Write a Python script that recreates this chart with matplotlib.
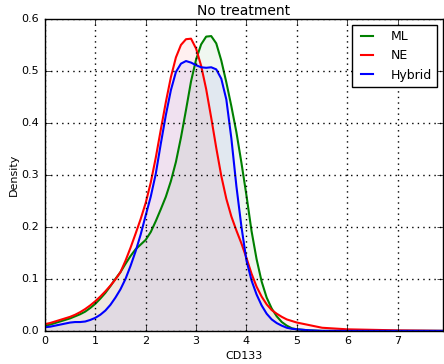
from matplotlib import pyplot as plt

# density values, CD133 on the x axis
cd133 = [0.0, 0.1, 0.2, 0.3, 0.4, 0.5, 0.6, 0.7, 0.8, 0.9,
         1.0, 1.1, 1.2, 1.3, 1.4, 1.5, 1.6, 1.7, 1.8, 1.9,
         2.0, 2.1, 2.2, 2.3, 2.4, 2.5, 2.6, 2.7, 2.8, 2.9,
         3.0, 3.1, 3.2, 3.3, 3.4, 3.5, 3.6, 3.7, 3.8, 3.9,
         4.0, 4.1, 4.2, 4.3, 4.4, 4.5, 4.6, 4.7, 4.8, 4.9,
         5.0, 5.25, 5.5, 6.0, 6.5, 7.0, 7.5, 7.9]

densML = [0.010, 0.012, 0.015, 0.018, 0.021, 0.024, 0.028, 0.032, 0.037, 0.044,
          0.052, 0.062, 0.073, 0.086, 0.100, 0.113, 0.129, 0.144, 0.157, 0.166,
          0.175, 0.190, 0.211, 0.234, 0.258, 0.288, 0.325, 0.372, 0.425, 0.480,
          0.522, 0.551, 0.566, 0.567, 0.553, 0.520, 0.478, 0.432, 0.382, 0.323,
          0.260, 0.192, 0.138, 0.095, 0.064, 0.043, 0.028, 0.017, 0.010, 0.005,
          0.003, 0.001, 0.0, 0.0, 0.0, 0.0, 0.0, 0.0]

densNE = [0.013, 0.015, 0.018, 0.021, 0.024, 0.027, 0.031, 0.036, 0.042, 0.049,
          0.057, 0.066, 0.076, 0.087, 0.099, 0.113, 0.135, 0.160, 0.187, 0.215,
          0.246, 0.285, 0.333, 0.387, 0.440, 0.488, 0.526, 0.550, 0.561, 0.562,
          0.543, 0.510, 0.465, 0.410, 0.352, 0.298, 0.254, 0.220, 0.193, 0.168,
          0.140, 0.110, 0.085, 0.066, 0.051, 0.040, 0.033, 0.027, 0.022, 0.019,
          0.016, 0.011, 0.006, 0.003, 0.002, 0.001, 0.0005, 0.0]

densHybrid = [0.007, 0.008, 0.010, 0.012, 0.014, 0.016, 0.017, 0.017, 0.018, 0.021,
              0.025, 0.031, 0.039, 0.050, 0.064, 0.080, 0.100, 0.125, 0.153, 0.185,
              0.222, 0.258, 0.302, 0.360, 0.415, 0.463, 0.498, 0.514, 0.519, 0.516,
              0.511, 0.507, 0.506, 0.507, 0.503, 0.485, 0.445, 0.370, 0.278, 0.200,
              0.135, 0.097, 0.070, 0.049, 0.033, 0.022, 0.015, 0.010, 0.006, 0.004,
              0.003, 0.001, 0.0, 0.0, 0.0, 0.0, 0.0, 0.0]

names = ["ML", "NE", "Hybrid"]
colors = ["g", "r", "b"]

plt.style.use('classic')
plt.rcParams['font.family'] = 'DejaVu Sans'

fig = plt.figure(figsize=(4.44, 3.64), dpi=100, facecolor='white')
ax = fig.add_axes([0.101, 0.091, 0.897, 0.857])

for dens, name, c in zip([densML, densNE, densHybrid], names, colors):
    ax.plot(cd133, dens, color=c, lw=1.5, label=name)
    ax.fill_between(cd133, dens, color=c, alpha=0.06, lw=0)

ax.set_xlim(0, 7.9)
ax.set_ylim(0, 0.6)
ax.set_xticks([0, 1, 2, 3, 4, 5, 6, 7])
ax.set_yticks([0.0, 0.1, 0.2, 0.3, 0.4, 0.5, 0.6])
ax.tick_params(labelsize=8)
ax.grid(True, color='k', linestyle=':', lw=1)
ax.set_title("No treatment", fontsize=10, pad=3)
ax.set_xlabel("CD133", fontsize=8, labelpad=3)
ax.set_ylabel("Density", fontsize=8, labelpad=2)
ax.legend(loc='upper right', fontsize=9, borderaxespad=0.5,
          handlelength=1.6, handletextpad=1.1, labelspacing=0.5)

plt.savefig('out.png', dpi=100, facecolor='white')
